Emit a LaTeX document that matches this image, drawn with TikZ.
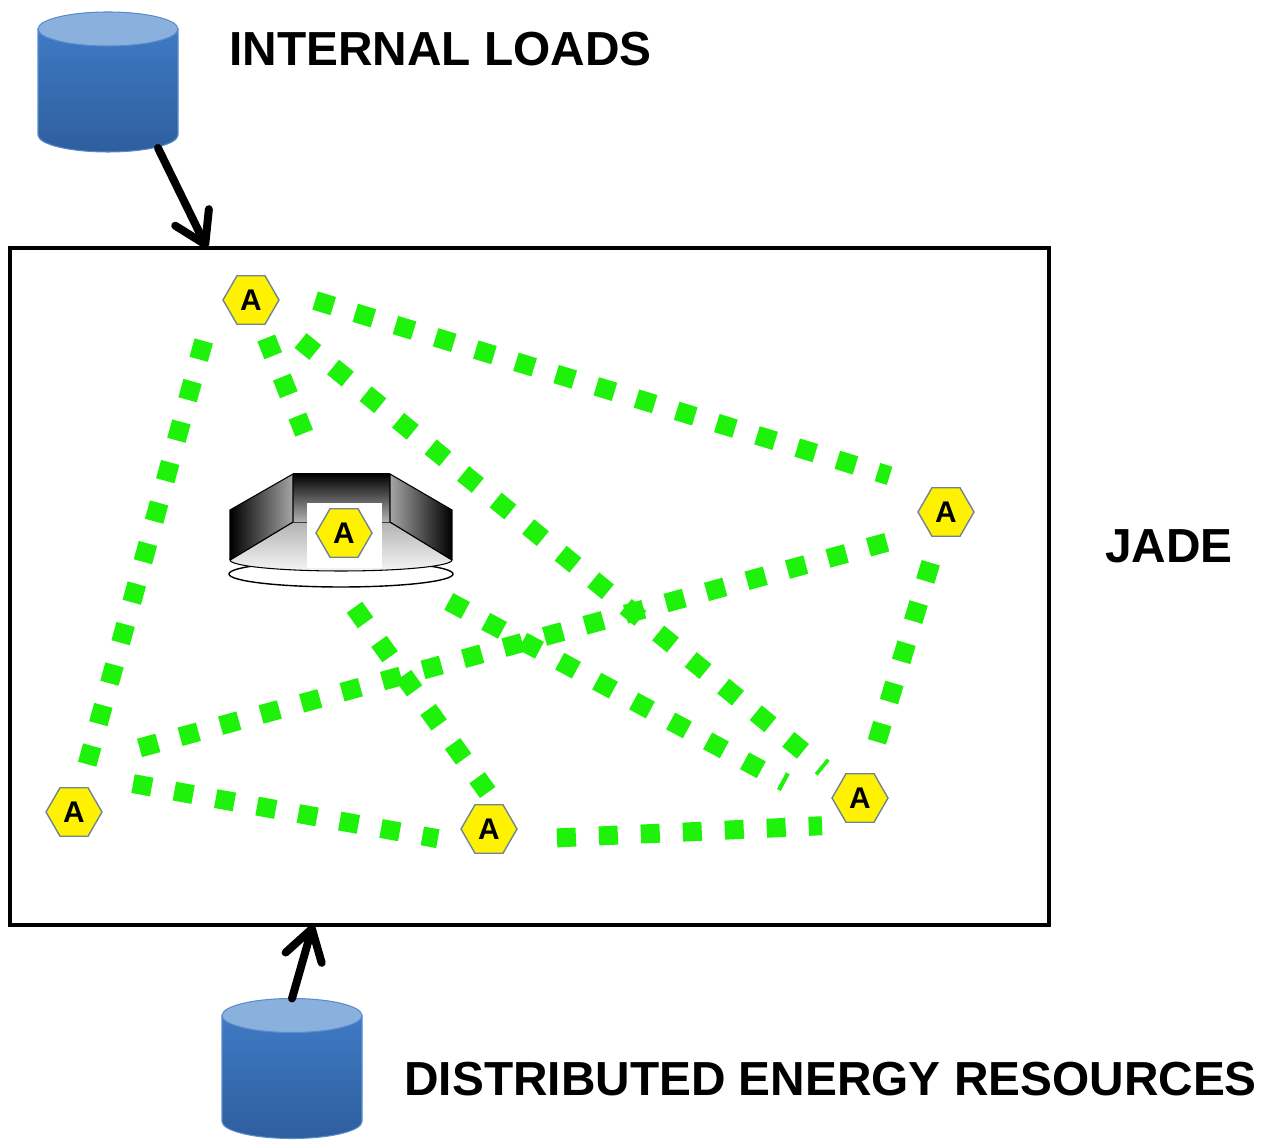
\documentclass[tikz,border=0pt]{standalone}
\usepackage{fontspec}
\setmainfont{Liberation Sans}
\usepackage{xcolor}
\usepackage{tikz}
\usetikzlibrary{positioning}
\usetikzlibrary{arrows.meta}
\usetikzlibrary{shapes.geometric}
\usetikzlibrary{backgrounds}

\definecolor{agentyellow}{RGB}{255,242,0}
\definecolor{agentedge}{RGB}{112,132,152}
\definecolor{linkgreen}{RGB}{30,242,10}
\definecolor{dbtop}{RGB}{138,176,222}
\definecolor{dbbody}{RGB}{62,122,196}
\definecolor{dbdeep}{RGB}{46,94,158}
\definecolor{dbedge}{RGB}{90,140,205}

\begin{document}
\begin{tikzpicture}[
    agent/.style={regular polygon, regular polygon sides=6, minimum size=11.2mm, inner sep=0pt,
                  fill=agentyellow, draw=agentedge, line width=0.8pt,
                  font=\bfseries\fontsize{17}{17}\selectfont},
    link/.style={draw=linkgreen, line width=3.8mm, dash pattern=on 3.8mm off 4.6mm},
    feed/.style={line width=1.6mm, line cap=round, -{Straight Barb[length=6mm,width=7.5mm,round]}},
    db/.style={minimum width=2.8cm, minimum height=2.8cm, inner sep=0pt, outer sep=0pt},
    caption/.style={anchor=base west, inner sep=0pt, font=\bfseries\fontsize{27.2}{30}\selectfont}
]
\useasboundingbox (0,0) rectangle (25.38,22.92);

% the two data stores and the platform frame
\node[db] (loads) at (2.16,21.28) {};
\node[db] (ders) at (5.84,1.55) {};
\node[draw, line width=0.85mm, minimum width=20.78cm, minimum height=13.54cm, outer sep=0pt] (jadebox) at (10.59,11.19) {};

\foreach \db in {loads,ders}{
    \shade[top color=dbbody, bottom color=dbdeep, draw=dbedge, line width=0.6pt]
        ([yshift=-3.4mm]\db.north west) -- ([yshift=3.4mm]\db.south west)
        arc[start angle=180, end angle=360, x radius=1.4cm, y radius=3.4mm]
        -- ([yshift=-3.4mm]\db.north east) -- cycle;
    \filldraw[fill=dbtop, draw=dbedge, line width=0.6pt]
        ([yshift=-3.4mm]\db.north) ellipse [x radius=1.4cm, y radius=3.4mm];
}

\node[caption] (loadsText) at (4.58,21.60) {INTERNAL LOADS};
\node[caption] (jadeText) at (22.10,11.66) {JADE};
\node[caption] (dersText) at (8.08,1.02) {DISTRIBUTED ENERGY RESOURCES};

\draw[feed] ([xshift=1cm,yshift=0.8mm]loads.south) -- ([xshift=3.94cm]jadebox.north west);
\draw[feed] (ders.north) -- ([xshift=6.06cm]jadebox.south west);

% container (lamp shape) holding one agent
\filldraw[fill=white, line width=0.8pt] (6.82,11.44) ellipse [x radius=2.24cm, y radius=0.26cm];
\shade[top color=gray!60, bottom color=gray!8, draw=black, line width=0.6pt]
    (4.60,11.72) -- (5.86,12.48) -- (7.80,12.48) -- (9.04,11.72)
    arc[start angle=0, end angle=-180, x radius=2.22cm, y radius=0.22cm] -- cycle;
\shade[left color=black, right color=gray!70] (4.60,11.72) -- (4.60,12.72) -- (5.86,13.44) -- (5.86,12.48) -- cycle;
\shade[top color=black, bottom color=gray!60] (5.86,12.48) rectangle (7.80,13.44);
\shade[left color=gray!70, right color=black] (7.80,12.48) -- (7.80,13.44) -- (9.04,12.72) -- (9.04,11.72) -- cycle;
\draw[line width=0.6pt] (4.60,11.72) -- (4.60,12.72) -- (5.86,13.44) -- (7.80,13.44) -- (9.04,12.72) -- (9.04,11.72);
\draw[line width=0.6pt] (5.86,13.44) -- (5.86,12.48) -- (4.60,11.72);
\draw[line width=0.6pt] (7.80,13.44) -- (7.80,12.48) -- (9.04,11.72);
\fill[white] (6.14,11.56) rectangle (7.64,12.86);

% agents
\node[agent] (agNW) at (5.02,16.92) {A};
\node[agent] (agE) at (18.92,12.68) {A};
\node[agent] (agSW) at (1.48,6.68) {A};
\node[agent] (agS) at (9.78,6.34) {A};
\node[agent] (agSE) at (17.20,6.96) {A};
\node[agent] (agC) at (6.88,12.26) {A};

% message links between agents
\begin{scope}[on background layer]
    \draw[link, shorten <=13.4mm, shorten >=11.8mm] ([yshift=3.8mm]agNW.center) -- ([yshift=3.8mm]agE.center);
    \draw[link, shorten <=8.5mm, shorten >=9.8mm] ([xshift=-7.2mm]agNW.center) -- (agSW.center);
    \draw[link, shorten <=8.2mm, shorten >=21.5mm] (agNW.center) -- (agC.center);
    \draw[link, shorten <=12.8mm, shorten >=9.4mm] (agNW.center) -- (agSE.center);
    \draw[link, shorten <=13.6mm, shorten >=7.8mm] ([yshift=9.2mm]agSW.center) -- ([yshift=-2.8mm]agE.center);
    \draw[link, shorten <=10.6mm, shorten >=10.4mm] (agE.center) -- (agSE.center);
    \draw[link, shorten <=12mm, shorten >=10.4mm] ([yshift=7.8mm]agSW.center) -- ([yshift=-3.8mm]agS.center);
    \draw[link, shorten <=13.6mm, shorten >=7.6mm] ([yshift=-2.4mm]agS.center) -- ([yshift=-5.2mm]agSE.center);
    \draw[link, shorten <=18.3mm, shorten >=9mm] ([xshift=-8.6mm]agC.center) -- ([xshift=5mm]agS.center);
    \draw[link, shorten <=23.8mm, shorten >=17mm] ([yshift=-2.4mm]agC.center) -- ([yshift=-5mm]agSE.center);
\end{scope}
\end{tikzpicture}
\end{document}
